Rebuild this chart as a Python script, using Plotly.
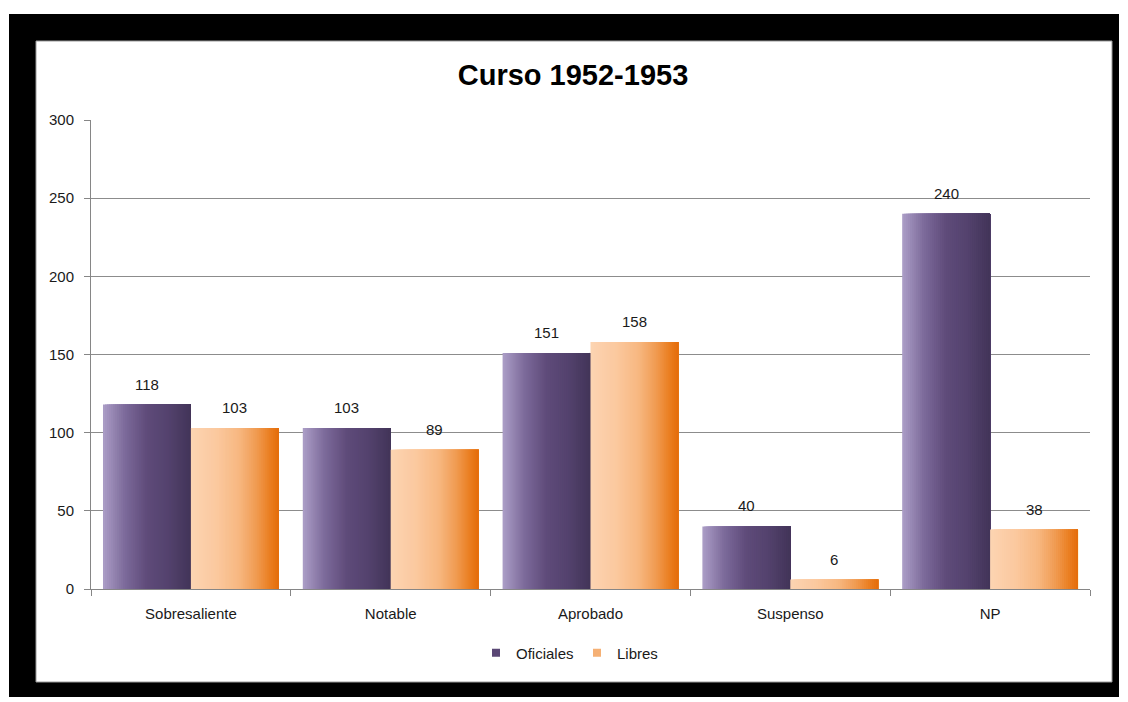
import plotly.graph_objects as go

# Data
categories = ["Sobresaliente", "Notable", "Aprobado", "Suspenso", "NP"]
oficiales = [118, 103, 151, 40, 240]
libres = [103, 89, 158, 6, 38]
series_names = ["Oficiales", "Libres"]
y_ticks = [0, 50, 100, 150, 200, 250, 300]

# Horizontal gradient stops (position, rgb) for each series
grad_oficiales = [(0.0, (172, 158, 199)), (0.25, (124, 106, 154)), (0.5, (95, 75, 122)),
                  (0.75, (83, 66, 109)), (1.0, (66, 52, 88))]
grad_libres = [(0.0, (252, 212, 178)), (0.3, (251, 200, 158)), (0.55, (247, 183, 128)),
               (0.75, (240, 154, 80)), (0.9, (234, 126, 32)), (1.0, (228, 108, 10))]

W, H = 1128, 702
L, R, T, B = 91, 1090, 120, 589  # plot area in pixels


def lerp_color(stops, t):
    for (p0, c0), (p1, c1) in zip(stops[:-1], stops[1:]):
        if p0 <= t <= p1:
            f = (t - p0) / (p1 - p0) if p1 > p0 else 0
            c = [round(a + (b - a) * f) for a, b in zip(c0, c1)]
            return f"rgb({c[0]},{c[1]},{c[2]})"
    c = stops[-1][1]
    return f"rgb({c[0]},{c[1]},{c[2]})"


def px_x(px):
    return (px - L) / (R - L)


def px_y(py):
    return (B - py) / (B - T)


fig = go.Figure()

# Each bar is painted as a stack of layers, every layer running from its
# start to the bar's right edge, so the horizontal gradient has no seams.
bar_w = 0.44
N = 44
for values, stops, start in [(oficiales, grad_oficiales, -bar_w), (libres, grad_libres, 0.0)]:
    step = bar_w / N
    for i in range(N):
        fig.add_trace(go.Bar(
            x=categories, y=values,
            width=bar_w - i * step,
            offset=start + i * step,
            marker=dict(color=lerp_color(stops, (i + 0.5) / N), line=dict(width=0)),
            showlegend=False, hoverinfo="skip",
        ))

# Legend entries: small squares
for name, stops in zip(series_names, [grad_oficiales, grad_libres]):
    fig.add_trace(go.Scatter(x=[None], y=[None], name=name, mode="markers",
                             marker=dict(symbol="square", size=8,
                                         color=lerp_color(stops, 0.6), line=dict(width=0))))

# Value labels above bars
annotations = []
for values, centre in [(oficiales, -bar_w / 2), (libres, bar_w / 2)]:
    for i, v in enumerate(values):
        annotations.append(dict(x=i + centre, y=v, xref="x", yref="y", text=str(v),
                                showarrow=False, yanchor="bottom", yshift=10,
                                font=dict(size=15, color="#1a1a1a")))

# Black frame with white inner panel
shapes = [
    dict(type="rect", xref="paper", yref="paper", layer="below",
         x0=px_x(9), x1=px_x(1119), y0=px_y(697), y1=px_y(14),
         fillcolor="black", line=dict(width=0)),
    dict(type="rect", xref="paper", yref="paper", layer="below",
         x0=px_x(36), x1=px_x(1112), y0=px_y(682), y1=px_y(41),
         fillcolor="white", line=dict(color="#9a9a9a", width=1)),
]

fig.update_layout(
    width=W, height=H,
    margin=dict(l=L, r=W - R, t=T, b=H - B, pad=0),
    paper_bgcolor="white", plot_bgcolor="rgba(0,0,0,0)",
    barmode="overlay",
    font=dict(family="Liberation Sans, Arial, sans-serif", size=15, color="#1a1a1a"),
    title=dict(text="<b>Curso 1952-1953</b>", x=573 / W, xref="container", xanchor="center",
               y=1 - 75 / H, yref="container", yanchor="middle",
               font=dict(size=29, color="black")),
    legend=dict(orientation="h", x=px_x(577), xanchor="center", y=px_y(653), yanchor="middle",
                font=dict(size=15), bgcolor="rgba(0,0,0,0)", itemwidth=30,
                entrywidth=56, entrywidthmode="pixels"),
    shapes=shapes,
    annotations=annotations,
)

fig.update_xaxes(
    type="category", categoryorder="array", categoryarray=categories,
    range=[-0.5, len(categories) - 0.5],
    showline=True, linecolor="#868686", linewidth=1,
    ticks="outside", tickson="boundaries", ticklen=6, tickcolor="#868686",
    ticklabelstandoff=11, showgrid=False, zeroline=False,
)
fig.update_yaxes(
    range=[0, 300], tickvals=y_ticks,
    showline=True, linecolor="#868686", linewidth=1,
    ticks="outside", ticklen=6, tickcolor="#868686", ticklabelstandoff=7,
    showgrid=True, gridcolor="#8c8c8c", gridwidth=1, zeroline=False,
)

fig.write_html("out.html")
